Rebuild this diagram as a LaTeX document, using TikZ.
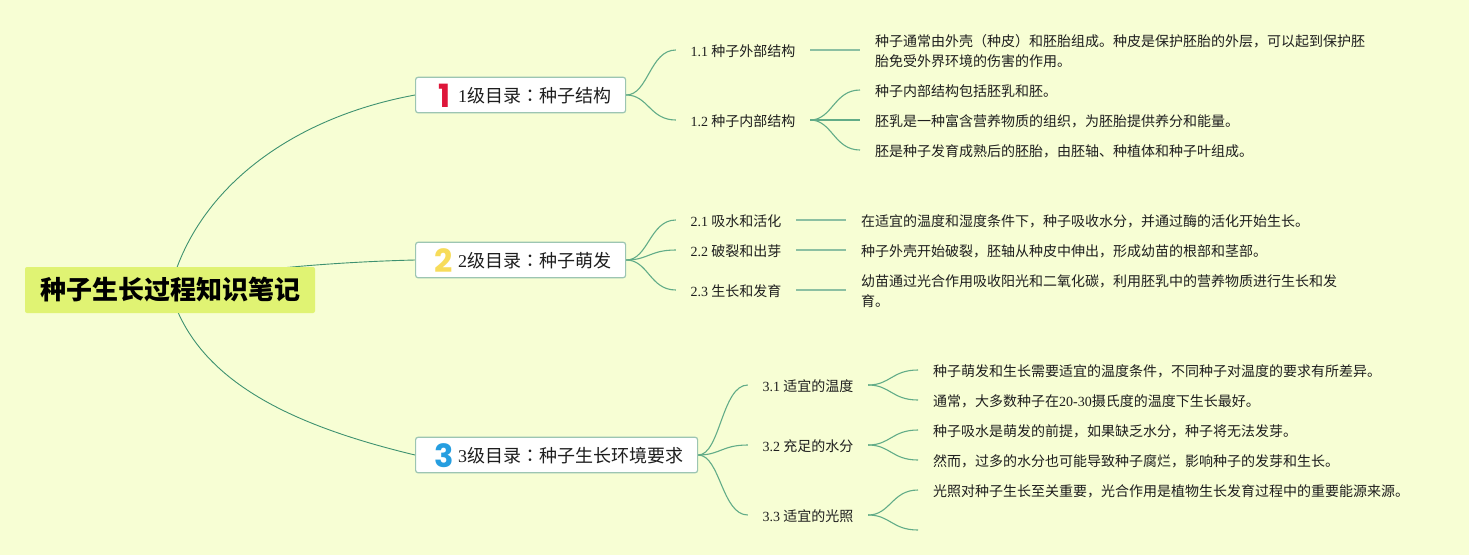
\documentclass[tikz,border=0pt]{standalone}
\usepackage{fontspec}
\setmainfont{Noto Sans CJK SC}
\newfontfamily\latfont{Liberation Serif}
\newfontfamily\tcfont{Noto Sans CJK TC}
\newfontfamily\iconfont{Poppins}[BoldFont={* Bold}]
\usetikzlibrary{backgrounds}
\newcommand{\D}[1]{{\latfont #1}}
\newcommand{\colonmark}{{\tcfont ：}}
\newcommand{\icon}[2]{\makebox[28pt][c]{\smash{\raisebox{-4.4pt}{\fontsize{32}{32}\selectfont\iconfont\bfseries\textcolor{#1}{#2}}}}}
\definecolor{bgc}{RGB}{247,254,212}
\definecolor{rootc}{RGB}{224,243,115}
\definecolor{edgec}{RGB}{156,197,178}
\definecolor{linkc}{RGB}{98,172,136}
\definecolor{linelt}{RGB}{140,192,162}
\definecolor{rootlinkc}{RGB}{62,145,112}
\definecolor{txt}{RGB}{30,30,30}
\definecolor{ic1}{RGB}{222,22,58}
\definecolor{ic2}{RGB}{247,220,90}
\definecolor{ic3}{RGB}{38,158,224}
\tikzset{
  rootbox/.style={fill=rootc,rounded corners=2pt,minimum width=290pt,minimum height=46pt,inner sep=0pt,text=black,font=\fontsize{26}{30}\selectfont\bfseries},
  lvlbox/.style={draw=edgec,line width=1.2pt,fill=white,rounded corners=2.5pt,minimum height=35.5pt,inner xsep=14.5pt,inner ysep=0pt,text height=18pt,text depth=2.4pt,text=txt,font=\fontsize{18}{22}\selectfont,anchor=west},
  subnode/.style={inner ysep=0pt,inner xsep=0pt,minimum height=16pt,text height=14pt,text depth=1.5pt,text=txt,font=\fontsize{14}{20}\selectfont},
  leafnode/.style={anchor=west,inner xsep=15pt,inner ysep=0pt,text height=14pt,text depth=1.5pt,text=txt,font=\fontsize{14}{20}\selectfont},
  leafmulti/.style={anchor=west,inner xsep=15pt,inner ysep=0pt,align=left,text=txt,font=\fontsize{14}{20}\selectfont},
  link/.style={draw=linkc,line width=1.1pt},
  straightlink/.style={draw=linelt,line width=1.5pt},
  rootlink/.style={draw=rootlinkc,line width=0.9pt},
}
\newcommand{\curve}[2]{\draw[link] (#1.east) .. controls +(22,0) and +(-26,0) .. (#2.west);}
\begin{document}
\begin{tikzpicture}[x=1pt,y=-1pt]
\useasboundingbox (0,0) rectangle (1469,555);
% root
\node[rootbox] (root) at (170,290) {种子生长过程知识笔记};
% level 1
\node[lvlbox] (l1) at (415,95) {\icon{ic1}{1}\D{1}级目录\colonmark 种子结构};
\node[lvlbox] (l2) at (415,260) {\icon{ic2}{2}\D{2}级目录\colonmark 种子萌发};
\node[lvlbox] (l3) at (415,455) {\icon{ic3}{3}\D{3}级目录\colonmark 种子生长环境要求};
% sub topics
\node[subnode,minimum width=134pt] (s11) at (743,50) {\D{1.1} 种子外部结构};
\node[subnode,minimum width=134pt] (s12) at (743,120) {\D{1.2} 种子内部结构};
\node[subnode,minimum width=120pt] (s21) at (736,220) {\D{2.1} 吸水和活化};
\node[subnode,minimum width=120pt] (s22) at (736,250) {\D{2.2} 破裂和出芽};
\node[subnode,minimum width=120pt] (s23) at (736,290) {\D{2.3} 生长和发育};
\node[subnode,minimum width=120pt] (s31) at (808,385) {\D{3.1} 适宜的温度};
\node[subnode,minimum width=120pt] (s32) at (808,445) {\D{3.2} 充足的水分};
\node[subnode,minimum width=120pt] (s33) at (808,515) {\D{3.3} 适宜的光照};
% leaves
\node[leafmulti] (a1) at (860,51) {种子通常由外壳（种皮）和胚胎组成。种皮是保护胚胎的外层，可以起到保护胚\\胎免受外界环境的伤害的作用。};
\coordinate (a1in) at (860,50);
\node[leafnode] (a2) at (860,90) {种子内部结构包括胚乳和胚。};
\node[leafnode] (a3) at (860,120) {胚乳是一种富含营养物质的组织，为胚胎提供养分和能量。};
\node[leafnode] (a4) at (860,150) {胚是种子发育成熟后的胚胎，由胚轴、种植体和种子叶组成。};
\node[leafnode] (b1) at (846,220) {在适宜的温度和湿度条件下，种子吸收水分，并通过酶的活化开始生长。};
\node[leafnode] (b2) at (846,250) {种子外壳开始破裂，胚轴从种皮中伸出，形成幼苗的根部和茎部。};
\node[leafmulti] (b3) at (846,291) {幼苗通过光合作用吸收阳光和二氧化碳，利用胚乳中的营养物质进行生长和发\\育。};
\coordinate (b3in) at (846,290);
\node[leafnode] (c1) at (918,370) {种子萌发和生长需要适宜的温度条件，不同种子对温度的要求有所差异。};
\node[leafnode] (c2) at (918,400) {通常，大多数种子在\D{20-30}摄氏度的温度下生长最好。};
\node[leafnode] (c3) at (918,430) {种子吸水是萌发的前提，如果缺乏水分，种子将无法发芽。};
\node[leafnode] (c4) at (918,460) {然而，过多的水分也可能导致种子腐烂，影响种子的发芽和生长。};
\node[leafnode] (c5) at (918,490) {光照对种子生长至关重要，光合作用是植物生长发育过程中的重要能源来源。};
\coordinate (c6) at (918,530);
\begin{scope}[on background layer]
\fill[bgc] (0,0) rectangle (1469,555);
\draw[rootlink] (root.center) .. controls +(25,-100) and +(-125,23) .. (l1.west);
\draw[rootlink] (root.center) .. controls +(30,-18) and +(-85,2) .. (l2.west);
\draw[rootlink] (root.center) .. controls +(25,90) and +(-125,-30) .. (l3.west);
\curve{l1}{s11}\curve{l1}{s12}
\curve{l2}{s21}\curve{l2}{s22}\curve{l2}{s23}
\curve{l3}{s31}\curve{l3}{s32}\curve{l3}{s33}
\draw[straightlink] (s11.east) -- (a1in);
\curve{s12}{a2}\curve{s12}{a3}\curve{s12}{a4}
\draw[straightlink] (s21.east) -- (b1.west);
\draw[straightlink] (s22.east) -- (b2.west);
\draw[straightlink] (s23.east) -- (b3in);
\curve{s31}{c1}\curve{s31}{c2}
\curve{s32}{c3}\curve{s32}{c4}
\curve{s33}{c5}
\draw[link] (s33.east) .. controls +(22,0) and +(-26,0) .. (c6);
\end{scope}
\end{tikzpicture}
\end{document}
